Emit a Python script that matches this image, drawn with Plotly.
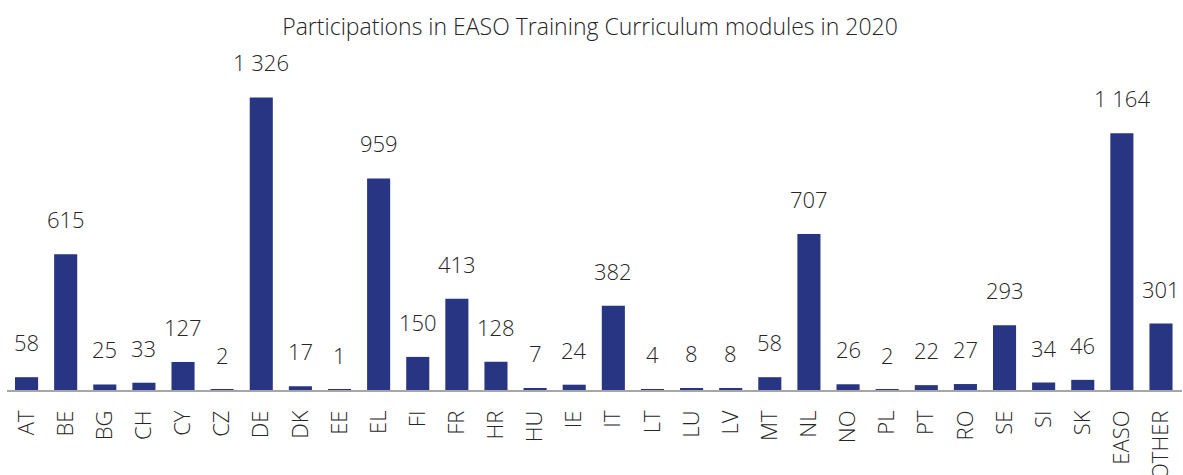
import plotly.graph_objects as go

categories = ["AT", "BE", "BG", "CH", "CY", "CZ", "DE", "DK", "EE", "EL",
              "FI", "FR", "HR", "HU", "IE", "IT", "LT", "LU", "LV", "MT",
              "NL", "NO", "PL", "PT", "RO", "SE", "SI", "SK", "EASO", "OTHER"]
values = [58, 615, 25, 33, 127, 2, 1326, 17, 1, 959,
          150, 413, 128, 7, 24, 382, 4, 8, 8, 58,
          707, 26, 2, 22, 27, 293, 34, 46, 1164, 301]

title_text = "Participations in EASO Training Curriculum modules in 2020"
bar_color = "#283583"
font_family = "Open Sans"
text_color = "#262626"

W, H = 1183, 475
fig = go.Figure()
fig.add_trace(go.Bar(
    x=categories, y=values, marker_color=bar_color, marker_line_width=0,
    hoverinfo="x+y",
))

def fmt(v):
    return f"{v:,}".replace(",", " ")

for c, v in zip(categories, values):
    fig.add_annotation(x=c, y=v, text=fmt(v), showarrow=False,
                       yshift=35, yanchor="middle", xanchor="center",
                       font=dict(family=font_family, size=22, color=text_color, weight=300))

fig.update_layout(
    width=W, height=H,
    margin=dict(l=7, r=1, t=59, b=85, autoexpand=False),
    paper_bgcolor="white", plot_bgcolor="white",
    bargap=0.41,
    showlegend=False,
    title=dict(text=title_text, x=590 / W, xanchor="center", y=1 - 27 / H, yanchor="middle",
               font=dict(family=font_family, size=23, color=text_color, weight=300)),
    font=dict(family=font_family, color=text_color),
)
fig.update_xaxes(showline=True, linecolor="#a6a6a6", linewidth=1.5, tickangle=-90,
                 ticks="", ticklabelstandoff=10, automargin=False,
                 tickfont=dict(family=font_family, size=22, color=text_color, weight=300))
fig.update_yaxes(range=[0, 1500], visible=False, showgrid=False, zeroline=False,
                 automargin=False)

fig.write_html("out.html", config={"displayModeBar": False},
               post_script="document.body.style.margin='0';document.body.style.padding='0';")
